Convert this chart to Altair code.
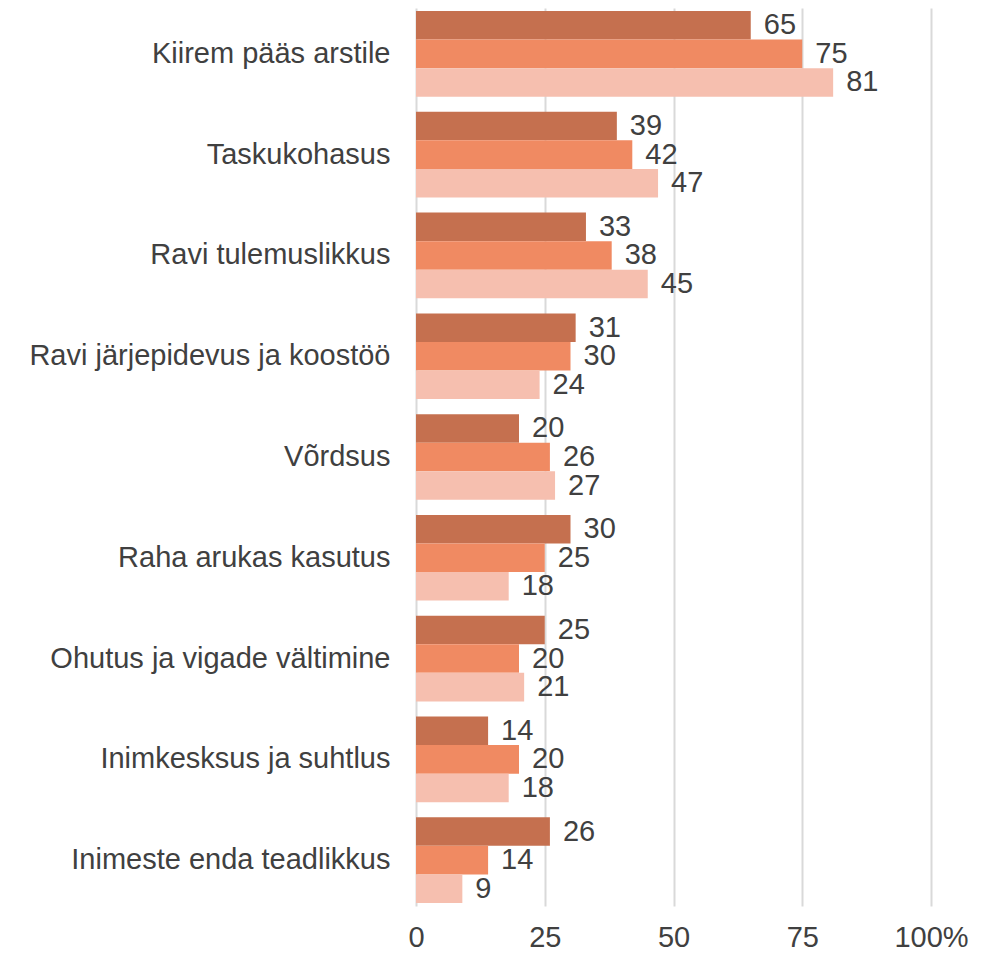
import altair as alt
import pandas as pd

categories = [
    "Kiirem pääs arstile",
    "Taskukohasus",
    "Ravi tulemuslikkus",
    "Ravi järjepidevus ja koostöö",
    "Võrdsus",
    "Raha arukas kasutus",
    "Ohutus ja vigade vältimine",
    "Inimkesksus ja suhtlus",
    "Inimeste enda teadlikkus",
]
series = ["Rühm 1", "Rühm 2", "Rühm 3"]
values_1 = [65, 39, 33, 31, 20, 30, 25, 14, 26]
values_2 = [75, 42, 38, 30, 26, 25, 20, 20, 14]
values_3 = [81, 47, 45, 24, 27, 18, 21, 18, 9]
colors = ["#C5704F", "#F08A62", "#F6BFAF"]

rows = []
for s, vals in zip(series, [values_1, values_2, values_3]):
    for c, v in zip(categories, vals):
        rows.append({"category": c, "series": s, "value": v})
df = pd.DataFrame(rows)

font = "Liberation Sans"
text_color = "#404040"
fs = 29

y_enc = alt.Y(
    "category:N",
    sort=categories,
    scale=alt.Scale(paddingInner=0.15, paddingOuter=0.03),
    axis=alt.Axis(
        title=None, domain=False, ticks=False, labelPadding=26,
        labelFontSize=fs, labelFont=font, labelColor=text_color, labelLimit=500,
    ),
)
yoff = alt.YOffset("series:N", sort=series)
x_enc = alt.X(
    "value:Q",
    scale=alt.Scale(domain=[0, 100], nice=False),
    axis=alt.Axis(
        title=None, values=[0, 25, 50, 75, 100], domain=False, ticks=False,
        grid=True, gridColor="#D9D9D9", gridWidth=2,
        labelFontSize=fs, labelFont=font, labelColor=text_color, labelPadding=17,
        labelExpr="datum.value == 100 ? '100%' : datum.label",
        labelFlush=False,
    ),
)

bars = alt.Chart(df).mark_bar().encode(
    x=x_enc,
    y=y_enc,
    yOffset=yoff,
    color=alt.Color("series:N", sort=series,
                    scale=alt.Scale(domain=series, range=colors), legend=None),
)
labels = alt.Chart(df).mark_text(
    align="left", baseline="middle", dx=13, fontSize=fs, font=font, color=text_color
).encode(
    x=alt.X("value:Q"),
    y=alt.Y("category:N", sort=categories),
    yOffset=yoff,
    text="value:Q",
)

chart = alt.layer(bars, labels).properties(
    width=515, height=898,
    autosize=alt.AutoSizeParams(type="none"),
    padding={"left": 408, "top": 0, "right": 45, "bottom": 46},
).configure_view(stroke=None)

chart.save("out.html", embed_options={"renderer": "svg", "actions": False})
